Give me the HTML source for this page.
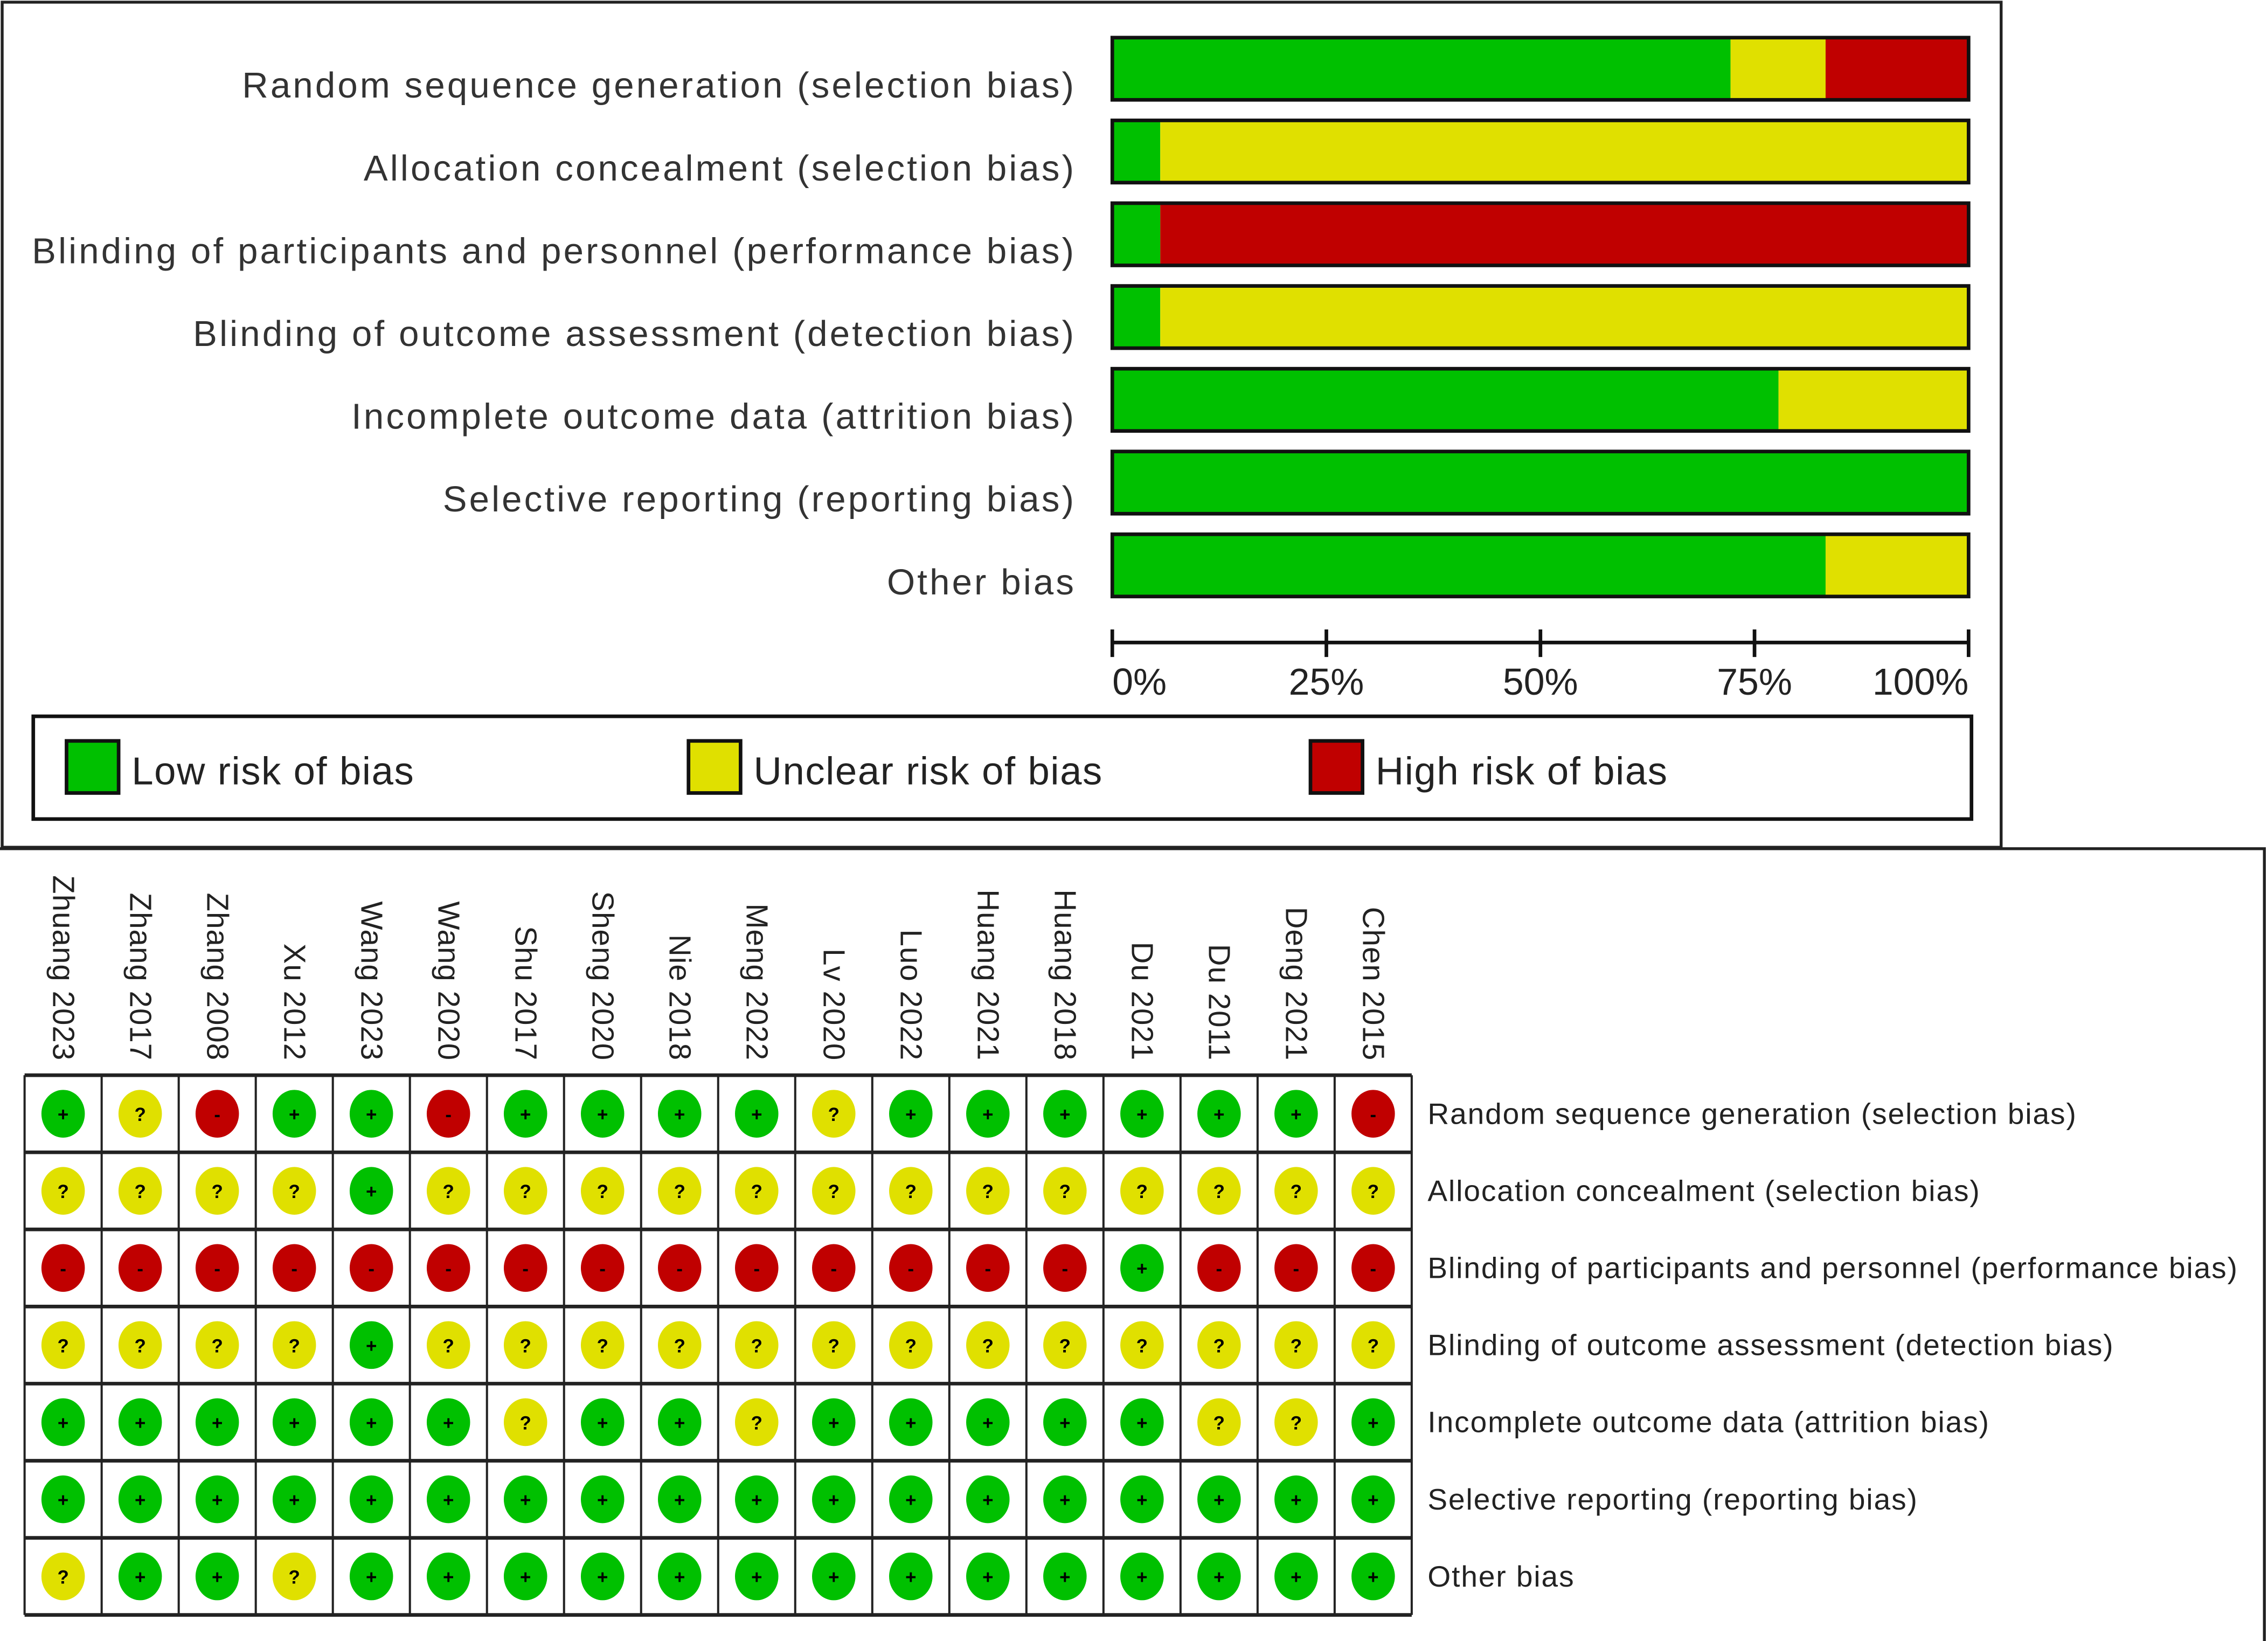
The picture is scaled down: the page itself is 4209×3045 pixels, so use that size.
<!DOCTYPE html>
<html><head><meta charset="utf-8"><style>
html,body{margin:0;padding:0;background:#fff;}
svg{display:block;}
text{font-family:"Liberation Sans",sans-serif;}
</style></head><body>
<svg id="c" width="4209" height="3045" viewBox="0 0 1568 1134" preserveAspectRatio="none" xmlns="http://www.w3.org/2000/svg"></svg>
<script>
const domains = ["Random sequence generation (selection bias)","Allocation concealment (selection bias)","Blinding of participants and personnel (performance bias)","Blinding of outcome assessment (detection bias)","Incomplete outcome data (attrition bias)","Selective reporting (reporting bias)","Other bias"];
const lowPct = [72.2, 5.6, 5.6, 5.6, 77.8, 100, 83.3];
const unclearPct = [11.1, 94.4, 0, 94.4, 22.2, 0, 16.7];
const highPct = [16.7, 0, 94.4, 0, 0, 0, 0];
const tickVals = [0, 25, 50, 75, 100];
const tickLabels = ["0%","25%","50%","75%","100%"];
const studies = ["Zhuang 2023","Zhang 2017","Zhang 2008","Xu 2012","Wang 2023","Wang 2020","Shu 2017","Sheng 2020","Nie 2018","Meng 2022","Lv 2020","Luo 2022","Huang 2021","Huang 2018","Du 2021","Du 2011","Deng 2021","Chen 2015"];
const judgements = [
"+?-++-++++?++++++-",
"????+?????????????",
"--------------+---",
"????+?????????????",
"++++++?++?+++++??+",
"++++++++++++++++++",
"?++?++++++++++++++?".slice(0,18)
];
const C = {low:"#00c000", unclear:"#e0e000", high:"#c00000"};
const svg = document.getElementById('c');
const NS = "http://www.w3.org/2000/svg";
function el(tag, attrs, parent){ const e=document.createElementNS(NS,tag); for(const k in attrs) e.setAttribute(k,attrs[k]); (parent||svg).appendChild(e); return e; }

let p1 = el('rect',{x:1.5,y:1.5,width:1382,height:584,fill:'none',stroke:'#222','stroke-width':2});


let p2 = el('path',{d:'M0 586.5 H1565.5 V1134',fill:'none',stroke:'#222','stroke-width':2});



const x0=769, x1=1361;
const xs = v => x0 + (x1-x0)*v/100;
const rowTop = i => 26 + i*57.2;
const bh = 43;
domains.forEach((d,i)=>{
  const y=rowTop(i);
  const t=el('text',{x:744,y:y+bh/2+20,'text-anchor':'end','font-size':25,fill:'#333','letter-spacing':1.55});
  t.textContent=d;
  
  
  let acc=0;
  [[lowPct[i],C.low,'bar-low'],[unclearPct[i],C.unclear,'bar-unclear'],[highPct[i],C.high,'bar-high']].forEach(([v,col,nm])=>{
    if(v<=0) return;
    const r=el('rect',{x:xs(acc),y:y,width:xs(acc+v)-xs(acc),height:bh,fill:col});
    
    
    acc+=v;
  });
  const b=el('rect',{x:x0,y:y,width:x1-x0,height:bh,fill:'none',stroke:'#111','stroke-width':2.5});
  
  
});
const ax=el('line',{x1:x0,x2:x1,y1:444,y2:444,stroke:'#111','stroke-width':2.5});


tickVals.forEach((v,i)=>{
  const tk=el('line',{x1:xs(v),x2:xs(v),y1:435,y2:454,stroke:'#111','stroke-width':2.5});
  
  
  const anchor = i===0?'start':(i===tickVals.length-1?'end':'middle');
  const t=el('text',{x:xs(v),y:480,'text-anchor':anchor,'font-size':26,fill:'#222'});
  t.textContent=tickLabels[i];
  
  
});
const lg=el('rect',{x:23,y:495,width:1340,height:71,fill:'none',stroke:'#111','stroke-width':2.5});


[[46,C.low,'Low risk of bias','legend-low'],[476,C.unclear,'Unclear risk of bias','legend-unclear'],[906,C.high,'High risk of bias','legend-high']].forEach(([x,col,txt,nm])=>{
  const s=el('rect',{x:x,y:512,width:36,height:36,fill:col,stroke:'#111','stroke-width':2.5});
  
  
  const t=el('text',{x:x+45,y:542,'font-size':27,fill:'#222','letter-spacing':0.6});
  t.textContent=txt;
  
  
});

const gx0=17, gx1=976, gy0=743, gy1=1116;
const cw=(gx1-gx0)/studies.length, ch=(gy1-gy0)/domains.length;
studies.forEach((s,j)=>{
  const cx=gx0+cw*(j+0.5);
  const t=el('text',{x:0,y:0,'text-anchor':'end','font-size':21,fill:'#222','letter-spacing':0.4,transform:`translate(${cx-7},733) rotate(90)`});
  t.textContent=s;
  
  
});
domains.forEach((d,i)=>{
  const cy=gy0+ch*(i+0.5);
  const t=el('text',{x:987,y:cy+7,'font-size':20.5,fill:'#222','letter-spacing':0.72});
  t.textContent=d;
  
  
  for(let j=0;j<studies.length;j++){
    const cx=gx0+cw*(j+0.5);
    const v=judgements[i][j];
    const col = v==='+'?C.low:(v==='?'?C.unclear:C.high);
    const c=el('ellipse',{cx:cx,cy:cy,rx:15,ry:16.5,fill:col});
    
    
    const g=el('text',{x:cx,y:cy+5,'text-anchor':'middle','font-size':13,'font-weight':'bold',fill:'#000'});
    g.textContent=v==='+'?'+':(v==='?'?'?':'-');
    
    
  }
});
for(let j=0;j<=studies.length;j++){
  const l=el('line',{x1:gx0+cw*j,x2:gx0+cw*j,y1:gy0,y2:gy1,stroke:'#222','stroke-width':1.5});
  
  
}
for(let i=0;i<=domains.length;i++){
  const l=el('line',{x1:gx0,x2:gx1,y1:gy0+ch*i,y2:gy0+ch*i,stroke:'#222','stroke-width':2.5});
  
  
}
</script>
</body></html>
